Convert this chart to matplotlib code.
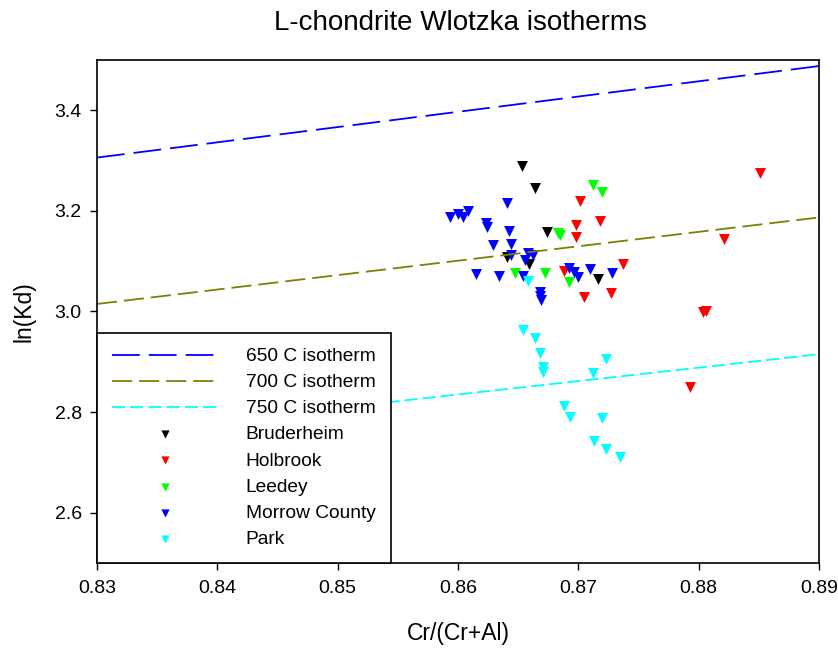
import matplotlib
matplotlib.use("Agg")
import matplotlib.pyplot as plt
import numpy as np

plt.rcParams['font.family'] = ['Liberation Sans', 'DejaVu Sans']
plt.rcParams['lines.scale_dashes'] = False

# isotherm end points (x range of the plot)
iso_x = [0.83, 0.89]
iso_650 = [3.306, 3.488]
iso_700 = [3.015, 3.187]
iso_750 = [2.755, 2.915]

bru_x = [0.8653, 0.8664, 0.8674, 0.8641, 0.8659, 0.8716]
bru_y = [3.289, 3.245, 3.159, 3.109, 3.094, 3.064]

hol_x = [0.8701, 0.8718, 0.8698, 0.8698, 0.8688, 0.8737, 0.8705, 0.8727,
         0.8851, 0.8821, 0.8804, 0.8806, 0.8793]
hol_y = [3.219, 3.179, 3.171, 3.149, 3.080, 3.094, 3.028, 3.036,
         3.275, 3.145, 2.998, 3.001, 2.849]

lee_x = [0.8712, 0.8720, 0.8683, 0.8685, 0.8647, 0.8672, 0.8692]
lee_y = [3.251, 3.237, 3.157, 3.153, 3.076, 3.076, 3.058]

mor_x = [0.8641, 0.8593, 0.8600, 0.8604, 0.8608, 0.8623, 0.8624, 0.8642,
         0.8629, 0.8644, 0.8644, 0.8658, 0.8662, 0.8656, 0.8615, 0.8634,
         0.8654, 0.8668, 0.8668, 0.8669, 0.8692, 0.8696, 0.8700, 0.8710,
         0.8728]
mor_y = [3.215, 3.187, 3.193, 3.187, 3.199, 3.175, 3.167, 3.161,
         3.133, 3.135, 3.113, 3.117, 3.113, 3.103, 3.074, 3.070,
         3.070, 3.030, 3.038, 3.022, 3.086, 3.078, 3.068, 3.084,
         3.076]

park_x = [0.8654, 0.8664, 0.8668, 0.8671, 0.8671, 0.8723, 0.8712, 0.8688,
          0.8693, 0.8720, 0.8713, 0.8723, 0.8735, 0.8658]
park_y = [2.964, 2.948, 2.918, 2.889, 2.879, 2.906, 2.877, 2.813,
          2.791, 2.789, 2.743, 2.727, 2.711, 3.060]

fig = plt.figure(figsize=(8.38, 6.48), dpi=100)
ax = fig.add_axes([0.1158, 0.1312, 0.8615, 0.7762])

ax.plot(iso_x, iso_650, color='#0000ff', lw=1.3, dashes=(20, 6.5), label='650 C isotherm')
ax.plot(iso_x, iso_700, color='#808000', lw=1.3, dashes=(14.5, 5), label='700 C isotherm')
ax.plot(iso_x, iso_750, color='#00ffff', lw=1.3, dashes=(9.5, 3.6), label='750 C isotherm')

ms = 62
ax.scatter(bru_x, bru_y, marker='v', s=ms, color='black', linewidths=0, label='Bruderheim')
ax.scatter(hol_x, hol_y, marker='v', s=ms, color='#ff0000', linewidths=0, label='Holbrook')
ax.scatter(lee_x, lee_y, marker='v', s=ms, color='#00ff00', linewidths=0, label='Leedey')
ax.scatter(mor_x, mor_y, marker='v', s=ms, color='#0000ff', linewidths=0, label='Morrow County')
ax.scatter(park_x, park_y, marker='v', s=ms, color='#00ffff', linewidths=0, label='Park')

ax.set_xlim(0.83, 0.89)
ax.set_ylim(2.5, 3.5)
ax.set_xticks(np.arange(0.83, 0.8901, 0.01))
ax.set_xticklabels(['0.83', '0.84', '0.85', '0.86', '0.87', '0.88', '0.89'])
ax.set_yticks([2.6, 2.8, 3.0, 3.2, 3.4])
ax.set_yticklabels(['2.6', '2.8', '3.0', '3.2', '3.4'])
ax.tick_params(direction='out', length=5, width=1, labelsize=14)
ax.tick_params(axis='x', pad=7)
ax.tick_params(axis='y', pad=6)
for sp in ax.spines.values():
    sp.set_linewidth(1.2)

ax.set_xlabel('Cr/(Cr+Al)', fontsize=16.5, labelpad=18)
ax.set_ylabel('ln(Kd)', fontsize=16.5, labelpad=14)
fig.text(0.549, 0.965, 'L-chondrite Wlotzka isotherms', fontsize=20, ha='center', va='center')

leg = ax.legend(loc='lower left', bbox_to_anchor=(0, 0), borderaxespad=0,
                fontsize=13.8, frameon=True, fancybox=False, framealpha=1,
                handlelength=5.5, handletextpad=1.45, labelspacing=0.45,
                markerscale=0.75, borderpad=0.8, scatterpoints=1)
leg.get_frame().set_edgecolor('black')
leg.get_frame().set_linewidth(1.2)

fig.savefig('out.png', dpi=100)
